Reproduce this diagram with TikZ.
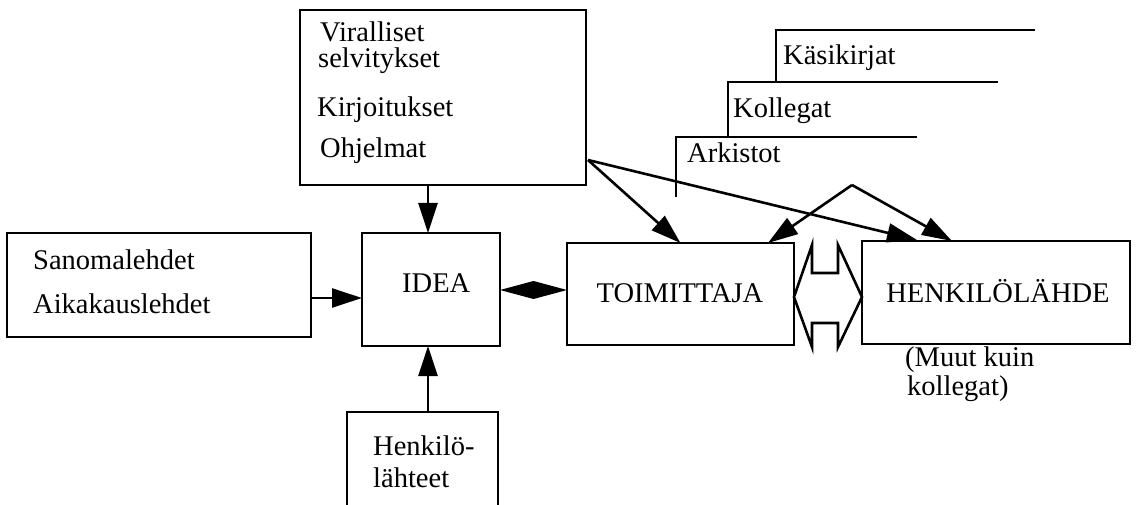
\documentclass[tikz,border=0pt]{standalone}
\usepackage{fontspec}
\setmainfont{Liberation Serif}
\usetikzlibrary{arrows.meta,calc}
\begin{document}
\begin{tikzpicture}[x=1pt,y=-1pt,
  box/.style={draw,line width=2.6pt,inner sep=0pt,outer sep=0pt,rectangle},
  txt/.style={anchor=base west,inner sep=0pt,font=\fontsize{28.5}{34}\selectfont},
  ctxt/.style={anchor=base,inner sep=0pt,font=\fontsize{28.5}{34}\selectfont},
  arr/.style={line width=2.6pt,-{Triangle[length=30pt,width=19pt]}},
  tab/.style={line width=2.2pt}]
\useasboundingbox (0,0) rectangle (1136,505);
% boxes
\node[box,minimum width=286pt,minimum height=175pt] (top) at (443,97.5) {};
\node[box,minimum width=304pt,minimum height=104pt] (sano) at (159,285) {};
\node[box,minimum width=138pt,minimum height=113pt] (idea) at (431,289.5) {};
\node[box,minimum width=227pt,minimum height=102pt] (toim) at (680.5,294) {};
\node[box,minimum width=268pt,minimum height=103pt] (henk) at (996,292.5) {};
% open bottom box
\coordinate (hbl) at (347,505);
\coordinate (hbr) at (498,505);
\draw[line width=2.6pt] (hbl) -- (347,412) coordinate (hbtl) -- (498,412) coordinate (hbtr) -- (hbr);
% texts
\node[txt] (t1) at (320,42) {Viralliset};
\node[txt] (t2) at (318,68) {selvitykset};
\node[txt] (t3) at (317,117) {Kirjoitukset};
\node[txt] (t4) at (320,158) {Ohjelmat};
\node[txt] (t5) at (33,270) {Sanomalehdet};
\node[txt] (t6) at (33,313) {Aikakauslehdet};
\node[txt] (t7) at (402,293) {IDEA};
\node[ctxt] (t8) at (680,302) {TOIMITTAJA};
\node[ctxt] (t9) at (998,303) {HENKILÖLÄHDE};
\node[txt] (t10) at (373,455) {Henkilö-};
\node[txt] (t11) at (373,487) {lähteet};
\node[txt] (t12) at (905,366) {(Muut kuin};
\node[txt] (t13) at (907,395) {kollegat)};
% tabs
\node[txt] (k1) at (783,65) {Käsikirjat};
\node[txt] (k2) at (733,118) {Kollegat};
\node[txt] (k3) at (687,163) {Arkistot};
\draw[tab] (776,82) -- (776,30) -- (1035,30);
\draw[tab] (728,137) -- (728,82) -- (998,82);
\draw[tab] (676,197) -- (676,137) -- (917,137);
% arrows
\draw[arr] (428,185) -- (428,233);
\draw[arr] (428,412) -- (428,346);
\coordinate (sa) at (sano.east |- 0,298);
\draw[arr] (sa) -- (sa -| idea.west);
% diamond connector between IDEA and TOIMITTAJA
\coordinate (da) at (idea.east |- 0,290);
\coordinate (db) at (toim.west |- 0,290);
\fill (da) -- ($(da)!0.5!(db)+(0,-9)$) -- (db) -- ($(da)!0.5!(db)+(0,9)$) -- cycle;
\coordinate (s1) at (588,160);
\draw[arr] (s1) -- (toim.north);
\draw[arr] (s1) -- (917,240);
\coordinate (ap) at (852,185);
\draw[arr] (ap) -- (768,243);
\draw[arr] (ap) -- (952,241);
% hollow double arrow
\draw[line width=2.6pt,line join=miter]
  (toim.east |- 0,297) -- (812,245) -- (812,273) -- (838,273) -- (838,245)
  -- (henk.west |- 0,297) -- (838,347) -- (838,323) -- (812,323) -- (812,347) -- cycle;
\end{tikzpicture}
\end{document}
